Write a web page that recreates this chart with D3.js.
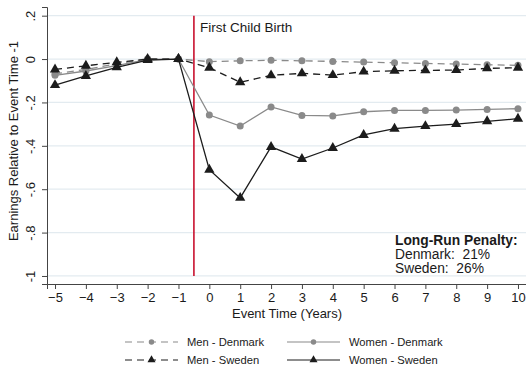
<!DOCTYPE html>
<html>
<head>
<meta charset="utf-8">
<script src="https://cdn.jsdelivr.net/npm/d3@7"></script>
<style>
  body { margin: 0; background: #fff; }
  text { font-family: "Liberation Sans", Arial, sans-serif; fill: #1a1a1a; }
</style>
</head>
<body>
<div id="chart"></div>
<script>
"use strict";
// données
const years = [-5, -4, -3, -2, -1, 0, 1, 2, 3, 4, 5, 6, 7, 8, 9, 10];
const menDenmark   = [-0.068, -0.048, -0.022, 0.002, 0, -0.012, -0.008, -0.006, -0.008, -0.011, -0.014, -0.017, -0.020, -0.023, -0.026, -0.029];
const womenDenmark = [-0.075, -0.055, -0.030, -0.002, 0, -0.258, -0.309, -0.221, -0.260, -0.262, -0.243, -0.237, -0.237, -0.235, -0.232, -0.229];
const menSweden    = [-0.048, -0.031, -0.015, 0.000, 0, -0.040, -0.107, -0.075, -0.066, -0.074, -0.058, -0.054, -0.052, -0.051, -0.043, -0.040];
const womenSweden  = [-0.120, -0.078, -0.038, -0.005, 0, -0.510, -0.640, -0.405, -0.461, -0.410, -0.350, -0.321, -0.309, -0.300, -0.287, -0.275];
const yTicks = [0.2, 0, -0.2, -0.4, -0.6, -0.8, -1];
const yTickLabels = [".2", "0", "-.2", "-.4", "-.6", "-.8", "-1"];
const penaltyLines = ["Denmark:  21%", "Sweden:  26%"];

const series = [
  {name: "Men - Denmark",   values: menDenmark,   color: "#8a8a8a", dash: "7,5", marker: "circle"},
  {name: "Women - Denmark", values: womenDenmark, color: "#8a8a8a", dash: null,  marker: "circle"},
  {name: "Men - Sweden",    values: menSweden,    color: "#1c1c1c", dash: "7,5", marker: "triangle"},
  {name: "Women - Sweden",  values: womenSweden,  color: "#1c1c1c", dash: null,  marker: "triangle"}
];

const width = 526, height = 366, fs = 13;
const svg = d3.select("#chart").append("svg")
  .attr("width", width).attr("height", height);

const x = d3.scaleLinear().domain([-5.26, 10.26]).range([47, 526]);
const y = d3.scaleLinear().domain([-1.037, 0.24]).range([284, 7]);

// grille
svg.append("g").selectAll("line").data(yTicks).enter().append("line")
  .attr("x1", x.range()[0]).attr("x2", x.range()[1])
  .attr("y1", d => y(d)).attr("y2", d => y(d))
  .attr("stroke", "#e3ebf0").attr("stroke-width", 1.3);

// axe y
const yAxis = svg.append("g").attr("transform", `translate(${x.range()[0]},0)`)
  .call(d3.axisLeft(y).tickValues(yTicks).tickSize(5).tickFormat((d, i) => yTickLabels[i]));
yAxis.select(".domain").attr("stroke", "#444");
yAxis.selectAll(".tick line").attr("stroke", "#444");
yAxis.selectAll(".tick text")
  .attr("font-size", fs).attr("text-anchor", "middle")
  .attr("transform", "rotate(-90)")
  .attr("x", 0).attr("y", -16).attr("dy", "0.32em");

// axe x
const xAxis = svg.append("g").attr("transform", `translate(0,${y.range()[0]})`)
  .call(d3.axisBottom(x).tickValues(years).tickSize(5).tickFormat(d3.format("d")));
xAxis.select(".domain").attr("stroke", "#444");
xAxis.selectAll(".tick line").attr("stroke", "#444");
xAxis.selectAll(".tick text").attr("font-size", fs).attr("y", 9);

// titres des axes
svg.append("text").attr("x", 287).attr("y", 318).attr("text-anchor", "middle")
  .attr("font-size", fs).text("Event Time (Years)");
svg.append("text")
  .attr("transform", "translate(18,141) rotate(-90)")
  .attr("text-anchor", "middle").attr("font-size", 13)
  .text("Earnings Relative to Event Time -1");

// naissance du premier enfant
svg.append("line")
  .attr("x1", x(-0.5)).attr("x2", x(-0.5))
  .attr("y1", y(0.2)).attr("y2", y(-1))
  .attr("stroke", "#c8102e").attr("stroke-width", 1.6);
svg.append("text").attr("x", x(-0.5) + 6).attr("y", 32)
  .attr("font-size", 13.5).text("First Child Birth");

// séries
const line = d3.line().x((d, i) => x(years[i])).y(d => y(d));

function drawMarker(g, s, px, py, k) {
  if (s.marker === "circle") {
    g.append("circle").attr("cx", px).attr("cy", py).attr("r", 3.5 * k).attr("fill", s.color);
  } else {
    g.append("path").attr("d", d3.symbol().type(d3.symbolTriangle).size(46 * k * k)())
      .attr("transform", `translate(${px},${py})`).attr("fill", s.color);
  }
}

series.forEach(s => {
  const g = svg.append("g");
  g.append("path").datum(s.values).attr("d", line)
    .attr("fill", "none").attr("stroke", s.color).attr("stroke-width", 1.3)
    .attr("stroke-dasharray", s.dash);
  s.values.forEach((v, i) => drawMarker(g, s, x(years[i]), y(v), 1));
});

// encadré pénalité
const pen = svg.append("g");
pen.append("text").attr("x", 395).attr("y", 245).attr("font-size", 13.8)
  .attr("font-weight", "bold").text("Long-Run Penalty:");
penaltyLines.forEach((t, i) => {
  pen.append("text").attr("x", 395).attr("y", 259 + i * 14).attr("font-size", 13.8)
    .style("white-space", "pre").text(t);
});

// légende
const legendPos = [[125, 342], [287, 342], [125, 360], [287, 360]];
series.forEach((s, i) => {
  const [lx, ly] = legendPos[i];
  const g = svg.append("g");
  g.append("line").attr("x1", lx).attr("x2", lx + 53).attr("y1", ly).attr("y2", ly)
    .attr("stroke", s.color).attr("stroke-width", 1.2).attr("stroke-dasharray", s.dash);
  drawMarker(g, s, lx + 26.5, ly, 0.78);
  g.append("text").attr("x", lx + 62).attr("y", ly).attr("dy", "0.35em")
    .attr("font-size", 11.2).text(s.name);
});
</script>
</body>
</html>
